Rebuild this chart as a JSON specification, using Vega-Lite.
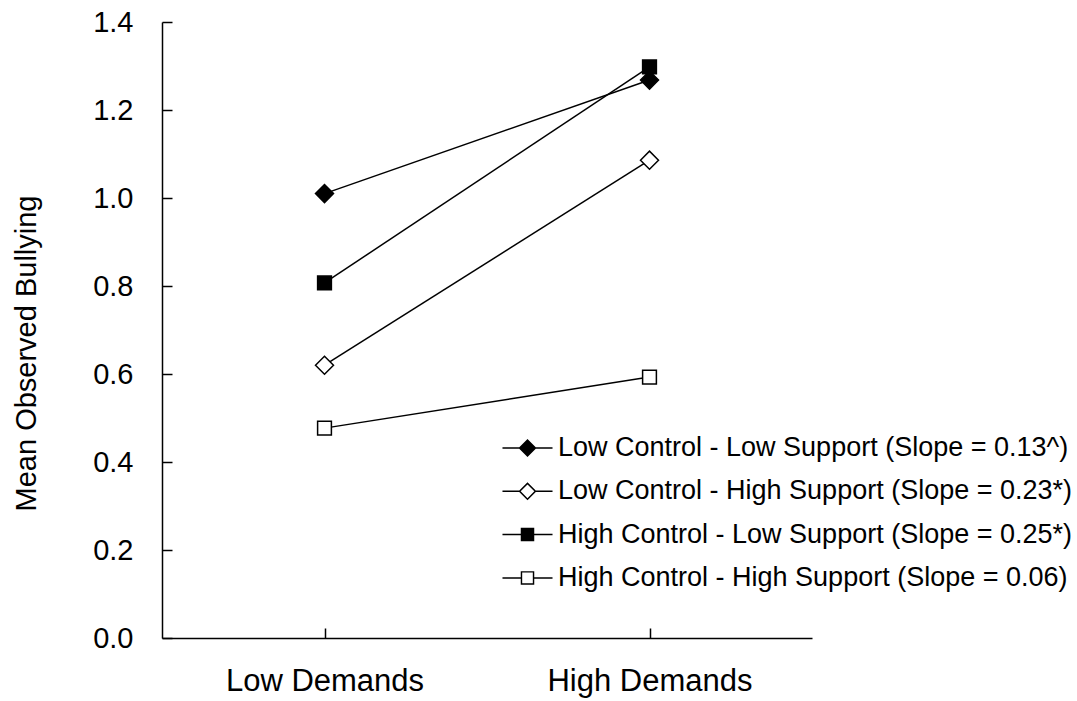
{
  "$schema": "https://vega.github.io/schema/vega-lite/v6.json",
  "autosize": "none",
  "width": 650,
  "height": 616,
  "padding": {"left": 162, "top": 22, "right": 265, "bottom": 63},
  "background": "white",
  "config": {
    "view": {"stroke": null},
    "font": "Liberation Sans",
    "axis": {"domainColor": "black", "tickColor": "black", "labelColor": "black", "titleColor": "black", "grid": false, "labelFont": "Liberation Sans", "titleFont": "Liberation Sans", "titleFontWeight": "normal", "domainWidth": 1.5, "tickWidth": 1.5}
  },
  "data": {
    "values": [
      {"series": "Low Control - Low Support (Slope = 0.13^)", "demands": "Low Demands", "value": 1.01},
      {"series": "Low Control - Low Support (Slope = 0.13^)", "demands": "High Demands", "value": 1.268},
      {"series": "Low Control - High Support (Slope = 0.23*)", "demands": "Low Demands", "value": 0.62},
      {"series": "Low Control - High Support (Slope = 0.23*)", "demands": "High Demands", "value": 1.086},
      {"series": "High Control - Low Support (Slope = 0.25*)", "demands": "Low Demands", "value": 0.807},
      {"series": "High Control - Low Support (Slope = 0.25*)", "demands": "High Demands", "value": 1.298},
      {"series": "High Control - High Support (Slope = 0.06)", "demands": "Low Demands", "value": 0.477},
      {"series": "High Control - High Support (Slope = 0.06)", "demands": "High Demands", "value": 0.593}
    ]
  },
  "encoding": {
    "x": {"field": "demands", "type": "ordinal", "sort": ["Low Demands", "High Demands"],
      "scale": {"type": "point", "padding": 0.5},
      "axis": {"title": null, "labelAngle": 0, "labelFontSize": 31, "labelPadding": 38, "labelLimit": 400, "tickSize": -10}},
    "y": {"field": "value", "type": "quantitative",
      "scale": {"domain": [0, 1.4], "nice": false},
      "axis": {"title": "Mean Observed Bullying", "titleFontSize": 29, "titlePadding": 51, "titleY": 331, "labelFontSize": 29, "labelPadding": 39, "tickSize": -10, "values": [0, 0.2, 0.4, 0.6, 0.8, 1.0, 1.2, 1.4], "format": ".1f"}}
  },
  "layer": [
    {
      "mark": {"type": "line", "color": "black", "strokeWidth": 1.5},
      "encoding": {"detail": {"field": "series"}}
    },
    {
      "mark": {"type": "point", "filled": true, "stroke": "black", "strokeWidth": 1.5, "opacity": 1},
      "encoding": {
        "shape": {"condition": {"test": "indexof(datum.series, 'Low Control') === 0", "value": "diamond"}, "value": "square"},
        "size": {"condition": {"test": "indexof(datum.series, 'Low Control') === 0", "value": 324}, "value": 190},
        "fill": {"condition": {"test": "indexof(datum.series, 'Low Support') > 0", "value": "black"}, "value": "white"}
      }
    },
    {
      "transform": [{"filter": "false"}],
      "mark": {"type": "point", "filled": true, "color": "black", "strokeWidth": 0, "opacity": 1},
      "encoding": {
        "shape": {
          "field": "series", "type": "nominal",
          "scale": {
            "domain": ["Low Control - Low Support (Slope = 0.13^)", "Low Control - High Support (Slope = 0.23*)", "High Control - Low Support (Slope = 0.25*)", "High Control - High Support (Slope = 0.06)"],
            "range": [
              "M-2.78,-0.085H-0.9V0.085H-2.78Z M0.9,-0.085H2.78V0.085H0.9Z M0,-1L1,0L0,1L-1,0Z",
              "M-2.78,-0.085H-0.95V0.085H-2.78Z M0.95,-0.085H2.78V0.085H0.95Z M0,-1L1,0L0,1L-1,0Z M0,-0.76L-0.76,0L0,0.76L0.76,0Z",
              "M-2.78,-0.085H-0.7V0.085H-2.78Z M0.7,-0.085H2.78V0.085H0.7Z M-0.75,-0.75H0.75V0.75H-0.75Z",
              "M-2.78,-0.085H-0.75V0.085H-2.78Z M0.75,-0.085H2.78V0.085H0.75Z M-0.75,-0.75H0.75V0.75H-0.75Z M-0.59,-0.59V0.59H0.59V-0.59Z"
            ]
          },
          "legend": {"title": null, "orient": "none", "legendX": 352, "legendY": 412.5, "padding": 0,
            "symbolSize": 324, "symbolFillColor": "black", "symbolStrokeWidth": 0, "symbolOpacity": 1,
            "labelFont": "Liberation Sans", "labelFontSize": 27, "labelColor": "black", "labelOffset": 17,
            "rowPadding": 15.3, "labelLimit": 700}
        }
      }
    }
  ]
}
